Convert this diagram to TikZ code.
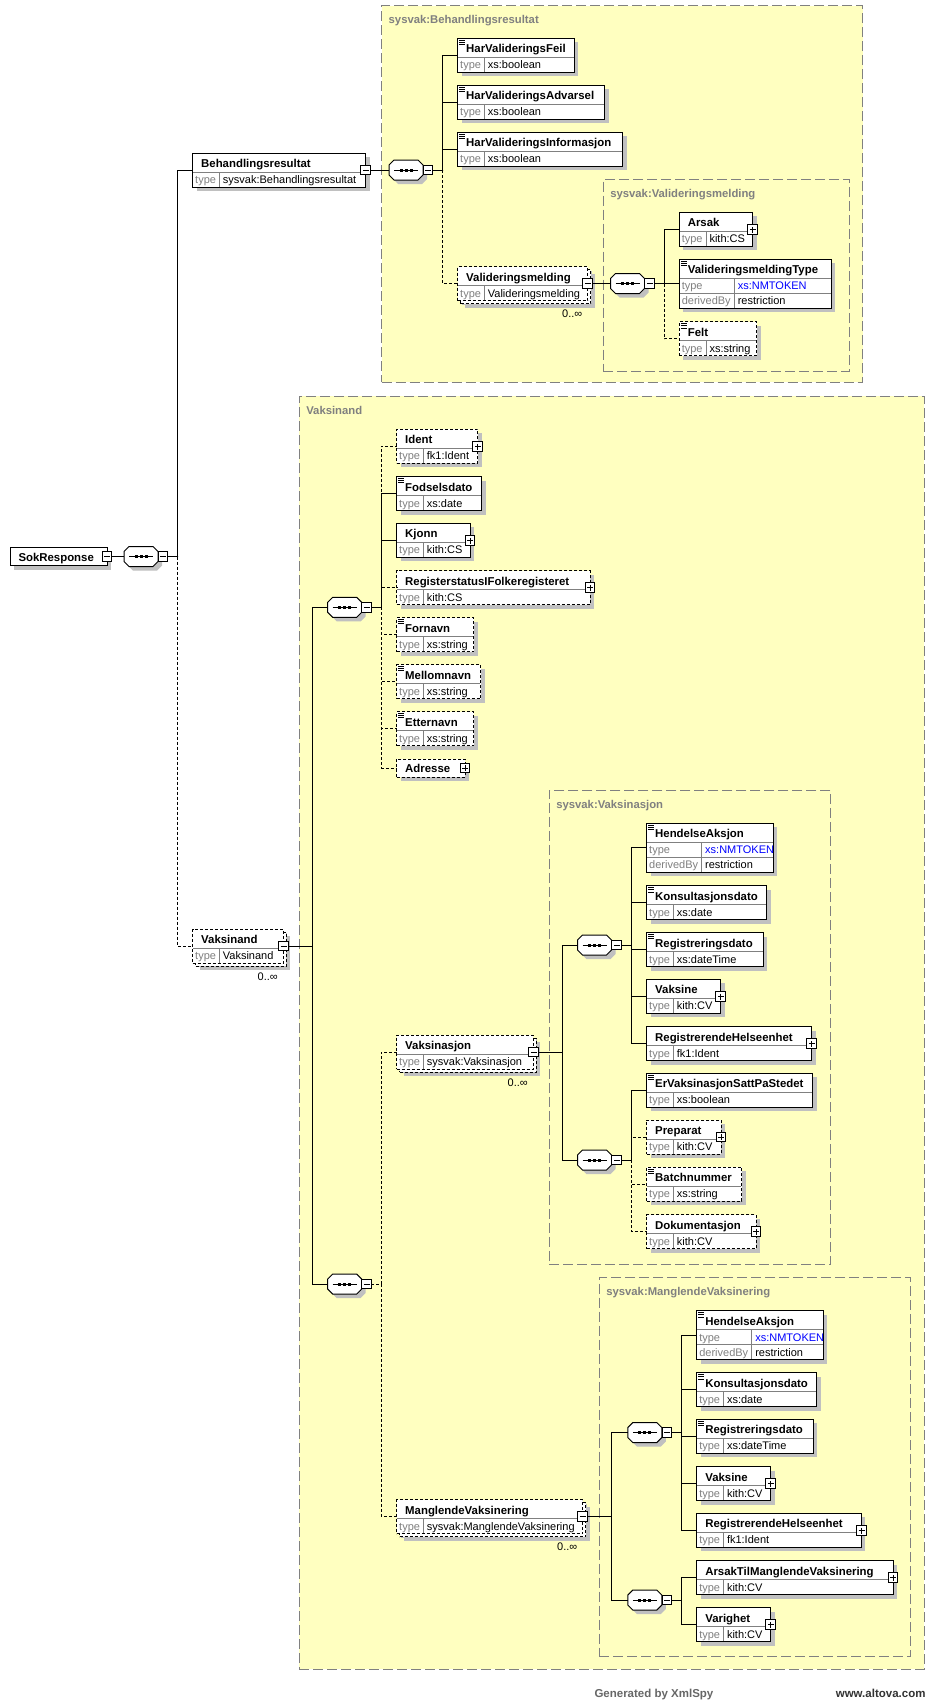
\documentclass[tikz,border=0pt]{standalone}
\usepackage{fontspec}
\setmainfont{Liberation Sans}
\usetikzlibrary{calc,shadows}

\definecolor{xsyellow}{RGB}{255,255,192}
\definecolor{xsshadow}{RGB}{192,192,192}
\definecolor{xsgray}{RGB}{128,128,128}
\definecolor{xsblue}{RGB}{0,0,255}

\newcommand{\elem}[7][]{%
  \node[ebox,#1,minimum width=#5,minimum height=34] (#2) at (#3,#4) {};
  \draw[divider] (#3+0.5,#4+19) -- (#3+#5-0.5,#4+19) (#3+26.7,#4+19) -- ++(0,14.5);
  \node[nametext] (#2-n) at (#3+8,#4+14.5) {#6};
  \node[typetext,text=xsgray] (#2-l) at (#3+2,#4+30.5) {type};
  \node[typetext] (#2-t) at (#3+29.7,#4+30.5) {#7};}
\newcommand{\elemone}[6][]{%
  \node[ebox,#1,minimum width=#5,minimum height=18] (#2) at (#3,#4) {};
  \node[nametext] (#2-n) at (#3+8,#4+13.5) {#6};}
\newcommand{\elemdrv}[6][]{%
  \node[ebox,#1,minimum width=#5,minimum height=49] (#2) at (#3,#4) {};
  \draw[divider] (#3+0.5,#4+19) -- (#3+#5-0.5,#4+19) (#3+0.5,#4+34) -- (#3+#5-0.5,#4+34)
    (#3+55,#4+19) -- ++(0,29.5);
  \node[nametext] (#2-n) at (#3+8,#4+14.5) {#6};
  \node[typetext,text=xsgray] (#2-l) at (#3+2,#4+30.5) {type};
  \node[typetext,text=xsblue] (#2-t) at (#3+58,#4+30.5) {xs:NMTOKEN};
  \node[typetext,text=xsgray] (#2-dl) at (#3+2,#4+45.5) {derivedBy};
  \node[typetext] (#2-d) at (#3+58,#4+45.5) {restriction};}
\newcommand{\smpl}[1]{%
  \foreach \dy in {1.8,4,6.2} \draw[line width=0.6pt] ($(#1.north west)+(1.5,\dy)$) -- ++(6,0);}
\newcommand{\plusbox}[1]{%
  \node[pmbox] (#1-p) at (#1.east) {};
  \draw (#1-p.west) ++(2,0) -- ++(6,0) (#1-p.north) ++(0,2) -- ++(0,6);}
\newcommand{\minusbox}[1]{%
  \node[pmbox] (#1-m) at (#1.east) {};
  \draw (#1-m.west) ++(2,0) -- ++(6,0);}
\newcommand{\seqgrp}[3]{%
  \node[seqnode] (#1) at (#2,#3) {};
  \draw[octo] ($(#1.west)+(0,-5)$) -- ($(#1.north west)+(5,0)$) -- ($(#1.north east)+(-5,0)$)
    -- ($(#1.east)+(0,-5)$) -- ($(#1.east)+(0,5)$) -- ($(#1.south east)+(-5,0)$)
    -- ($(#1.south west)+(5,0)$) -- ($(#1.west)+(0,5)$) -- cycle;
  \draw ($(#1.center)+(-12,0)$) -- ++(24,0);
  \foreach \dx in {-5,0,5} \fill ($(#1.center)+(\dx-1.5,-1.5)$) rectangle ++(3,3);
  \node[pmbox] (#1-m) at (#2+22,#3) {};
  \draw (#1-m.west) ++(2,0) -- ++(6,0);}
\newcommand{\typeframe}[6]{%
  \node[tframe,minimum width=#4,minimum height=#5] (#1) at (#2,#3) {};
  \node[tlabel] (#1-l) at (#2+6.5,#3+18) {#6};}

\begin{document}
\begin{tikzpicture}[x=1pt,y=-1pt,line width=1pt,
    ebox/.style={draw,fill=white,anchor=north west,inner sep=0,outer sep=0,
      general shadow={fill=xsshadow,shadow xshift=4pt,shadow yshift=-4pt}},
    opt/.style={dash pattern=on 3pt off 2pt},
    multi/.style={general shadow={fill=xsshadow,shadow xshift=7pt,shadow yshift=-7pt},
      general shadow={fill=white,draw=black,line width=1pt,dash pattern=on 3pt off 2pt,
        shadow xshift=3pt,shadow yshift=-3pt}},
    divider/.style={draw=xsgray,solid},
    nametext/.style={anchor=base west,inner sep=0,font=\fontsize{11.4}{13}\selectfont\bfseries},
    typetext/.style={anchor=base west,inner sep=0,font=\fontsize{11}{13}\selectfont},
    occ/.style={anchor=east,inner sep=0,font=\fontsize{11}{13}\selectfont},
    pmbox/.style={draw,solid,fill=white,minimum size=9.5,inner sep=0,outer sep=0},
    seqnode/.style={minimum width=34,minimum height=20,inner sep=0,outer sep=0},
    octo/.style={draw,fill=white,general shadow={fill=xsshadow,shadow xshift=4pt,shadow yshift=-4pt}},
    tframe/.style={draw=xsgray,fill=xsyellow,dash pattern=on 10pt off 4pt,anchor=north west,
      inner sep=0,outer sep=0},
    tlabel/.style={anchor=base west,inner sep=0,text=xsgray,font=\fontsize{11.3}{13}\selectfont\bfseries}]
  \useasboundingbox[fill=white] (0,0) rectangle (935,1700);

  \typeframe{brframe}{381.7}{5.7}{481}{376.3}{sysvak:Behandlingsresultat}
  \typeframe{vmframe}{603.3}{179.3}{246}{191.7}{sysvak:Valideringsmelding}
  \typeframe{vdframe}{299.3}{396}{624.7}{1273.3}{Vaksinand}
  \typeframe{vsframe}{549.3}{790}{281.4}{474.3}{sysvak:Vaksinasjon}
  \typeframe{mvframe}{599.3}{1277.3}{311.2}{379.4}{sysvak:ManglendeVaksinering}

  \elemone{sokresp}{10}{547.5}{97}{SokResponse}
  \minusbox{sokresp}
  \seqgrp{s0}{141}{556.5}

  \elem{behres}{192.7}{153}{173}{Behandlingsresultat}{sysvak:Behandlingsresultat}
  \minusbox{behres}
  \seqgrp{b0}{406}{170}
  \elem{hvfeil}{457.7}{38.3}{116.6}{HarValideringsFeil}{xs:boolean}
  \smpl{hvfeil}
  \elem{hvadv}{457.7}{85.3}{147}{HarValideringsAdvarsel}{xs:boolean}
  \smpl{hvadv}
  \elem{hvinfo}{457.7}{132.3}{165}{HarValideringsInformasjon}{xs:boolean}
  \smpl{hvinfo}
  \elem[opt,multi]{valmeld}{457.7}{266.5}{130}{Valideringsmelding}{Valideringsmelding}
  \minusbox{valmeld}
  \node[occ] (valmeld-o) at ($(valmeld.south east)+(-5,13.5)$) {0..∞};
  \seqgrp{v1}{627.5}{283.5}
  \elem{arsak}{679.3}{212.3}{73.4}{Arsak}{kith:CS}
  \plusbox{arsak}
  \elemdrv{valtype}{679.3}{259.3}{151.7}{ValideringsmeldingType}
  \smpl{valtype}
  \elem[opt]{felt}{679.3}{321.7}{77.4}{Felt}{xs:string}
  \smpl{felt}

  \elem[opt,multi]{vaksinand}{192.7}{929}{90.6}{Vaksinand}{Vaksinand}
  \minusbox{vaksinand}
  \node[occ] (vaksinand-o) at ($(vaksinand.south east)+(-5,13.5)$) {0..∞};
  \seqgrp{a1}{344.7}{607.3}
  \seqgrp{a2}{344.7}{1284}
  \elem[opt]{ident}{396.7}{429.3}{81}{Ident}{fk1:Ident}
  \plusbox{ident}
  \elem{fodsel}{396.7}{476.5}{85}{Fodselsdato}{xs:date}
  \smpl{fodsel}
  \elem{kjonn}{396.7}{523.3}{73.3}{Kjonn}{kith:CS}
  \plusbox{kjonn}
  \elem[opt]{regstat}{396.7}{570.5}{193.3}{RegisterstatusIFolkeregisteret}{kith:CS}
  \plusbox{regstat}
  \elem[opt]{fornavn}{396.7}{617.5}{77}{Fornavn}{xs:string}
  \smpl{fornavn}
  \elem[opt]{mellom}{396.7}{664.5}{84}{Mellomnavn}{xs:string}
  \smpl{mellom}
  \elem[opt]{etter}{396.7}{711.5}{77}{Etternavn}{xs:string}
  \smpl{etter}
  \elemone[opt]{adresse}{396.7}{759}{68.3}{Adresse}
  \plusbox{adresse}

  \elem[opt,multi]{vaksinasjon}{396.7}{1035}{136.6}{Vaksinasjon}{sysvak:Vaksinasjon}
  \minusbox{vaksinasjon}
  \node[occ] (vaksinasjon-o) at ($(vaksinasjon.south east)+(-5,13.5)$) {0..∞};
  \seqgrp{c1}{594.5}{945}
  \seqgrp{c2}{594.5}{1160}
  \elemdrv{hend1}{646.7}{823.3}{126.6}{HendelseAksjon}
  \smpl{hend1}
  \elem{kons1}{646.7}{885.7}{120}{Konsultasjonsdato}{xs:date}
  \smpl{kons1}
  \elem{reg1}{646.7}{932.5}{116.6}{Registreringsdato}{xs:dateTime}
  \smpl{reg1}
  \elem{vaks1}{646.7}{979.3}{74}{Vaksine}{kith:CV}
  \plusbox{vaks1}
  \elem{rhe1}{646.7}{1026.5}{165}{RegistrerendeHelseenhet}{fk1:Ident}
  \plusbox{rhe1}
  \elem{ervs}{646.7}{1073.3}{166}{ErVaksinasjonSattPaStedet}{xs:boolean}
  \smpl{ervs}
  \elem[opt]{prep}{646.7}{1120}{74.3}{Preparat}{kith:CV}
  \plusbox{prep}
  \elem[opt]{batch}{646.7}{1167.3}{95}{Batchnummer}{xs:string}
  \smpl{batch}
  \elem[opt]{dok}{646.7}{1214.5}{109.3}{Dokumentasjon}{kith:CV}
  \plusbox{dok}

  \elem[opt,multi]{mangl}{396.7}{1499.5}{186}{ManglendeVaksinering}{sysvak:ManglendeVaksinering}
  \minusbox{mangl}
  \node[occ] (mangl-o) at ($(mangl.south east)+(-5,13.5)$) {0..∞};
  \seqgrp{m1}{644.8}{1432.5}
  \seqgrp{m2}{644.8}{1600}
  \elemdrv{hend2}{696.8}{1310.7}{126.6}{HendelseAksjon}
  \smpl{hend2}
  \elem{kons2}{696.8}{1372.7}{120}{Konsultasjonsdato}{xs:date}
  \smpl{kons2}
  \elem{reg2}{696.8}{1419.3}{116.6}{Registreringsdato}{xs:dateTime}
  \smpl{reg2}
  \elem{vaks2}{696.8}{1466.7}{73.7}{Vaksine}{kith:CV}
  \plusbox{vaks2}
  \elem{rhe2}{696.8}{1513.3}{164.6}{RegistrerendeHelseenhet}{fk1:Ident}
  \plusbox{rhe2}
  \elem{arsakt}{696.8}{1560.7}{196.2}{ArsakTilManglendeVaksinering}{kith:CV}
  \plusbox{arsakt}
  \elem{varig}{696.8}{1607.7}{73.7}{Varighet}{kith:CV}
  \plusbox{varig}

  \draw (sokresp-m) -- (s0);
  \draw (behres-m) -- (b0);
  \draw (valmeld-m) -- (v1);
  \draw[opt] (s0-m.east) -- ++(10,0) |- (vaksinand.west);
  \draw (s0-m.east) -- ++(10,0) |- (behres.west);
  \draw[opt] (b0-m.east) -- ++(10,0) |- (valmeld.west);
  \foreach \ch in {hvfeil,hvadv,hvinfo} \draw (b0-m.east) -- ++(10,0) |- (\ch.west);
  \draw[opt] (v1-m.east) -- ++(10,0) |- (felt.west);
  \foreach \ch in {arsak,valtype} \draw (v1-m.east) -- ++(10,0) |- (\ch.west);
  \foreach \ch in {a1,a2} \draw (vaksinand-m.east) -- ++(24,0) |- (\ch.west);
  \foreach \ch in {ident,regstat,fornavn,mellom,etter,adresse}
    \draw[opt] (a1-m.east) -- ++(10,0) |- (\ch.west);
  \foreach \ch in {fodsel,kjonn} \draw (a1-m.east) -- ++(10,0) |- (\ch.west);
  \foreach \ch in {vaksinasjon,mangl} \draw[opt] (a2-m.east) -- ++(10,0) |- (\ch.west);
  \foreach \ch in {c1,c2} \draw (vaksinasjon-m.east) -- ++(24,0) |- (\ch.west);
  \foreach \ch in {hend1,kons1,reg1,vaks1,rhe1} \draw (c1-m.east) -- ++(10,0) |- (\ch.west);
  \foreach \ch in {prep,batch,dok} \draw[opt] (c2-m.east) -- ++(10,0) |- (\ch.west);
  \draw (c2-m.east) -- ++(10,0) |- (ervs.west);
  \foreach \ch in {m1,m2} \draw (mangl-m.east) -- ++(24,0) |- (\ch.west);
  \foreach \ch in {hend2,kons2,reg2,vaks2,rhe2} \draw (m1-m.east) -- ++(10,0) |- (\ch.west);
  \foreach \ch in {arsakt,varig} \draw (m2-m.east) -- ++(10,0) |- (\ch.west);

  \node[anchor=base west,inner sep=0,text=xsgray!80!black,font=\fontsize{11.5}{13}\selectfont\bfseries]
    (genby) at (594,1697) {Generated by XmlSpy};
  \node[anchor=base east,inner sep=0,text=black!80,font=\fontsize{11.5}{13}\selectfont\bfseries]
    (altova) at (926,1697) {www.altova.com};
\end{tikzpicture}
\end{document}
